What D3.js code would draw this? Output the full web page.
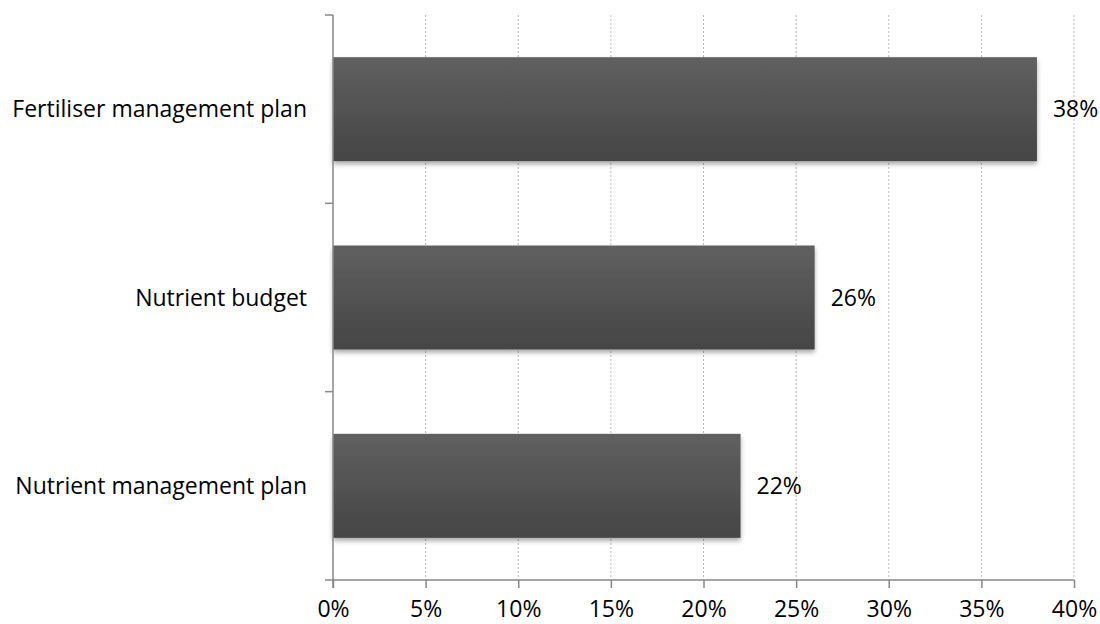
<!DOCTYPE html>
<html><head><meta charset="utf-8">
<script src="https://d3js.org/d3.v7.min.js"></script>
<style>body{margin:0;background:#fff}svg{display:block}</style>
</head><body>
<script>
const categories = ["Fertiliser management plan","Nutrient budget","Nutrient management plan"];
const values = [0.38, 0.26, 0.22];
const valueLabels = ["38%","26%","22%"];
const xTicks = [0,0.05,0.10,0.15,0.20,0.25,0.30,0.35,0.40];

(function(){
const W=1100,H=624;
const mLeft=333,mRight=1074,mTop=15,mBottom=580;
const font="'Open Sans', 'Liberation Sans', sans-serif";
const fs=23;
const svg=d3.select("body").append("svg").attr("width",W).attr("height",H);
const defs=svg.append("defs");
const g=defs.append("linearGradient").attr("id","bg").attr("x1",0).attr("y1",0).attr("x2",0).attr("y2",1);
g.append("stop").attr("offset","0%").attr("stop-color","#606060");
g.append("stop").attr("offset","100%").attr("stop-color","#454545");
const f=defs.append("filter").attr("id","sh").attr("x","-5%").attr("y","-10%").attr("width","110%").attr("height","130%");
f.append("feGaussianBlur").attr("in","SourceAlpha").attr("stdDeviation",2.5);
f.append("feOffset").attr("dx",0).attr("dy",3).attr("result","b");
f.append("feComponentTransfer").append("feFuncA").attr("type","linear").attr("slope",0.35);
const m=f.append("feMerge");m.append("feMergeNode");m.append("feMergeNode").attr("in","SourceGraphic");

const x=d3.scaleLinear().domain([0,0.40]).range([mLeft,mRight]);
const y=d3.scaleBand().domain(categories).range([mTop,mBottom]).paddingInner(0.448).paddingOuter(0.224);

svg.append("g").selectAll("line").data(xTicks.slice(1)).join("line")
 .attr("x1",d=>x(d)).attr("x2",d=>x(d)).attr("y1",mTop).attr("y2",mBottom)
 .attr("stroke","#b8b8b8").attr("stroke-width",1).attr("stroke-dasharray","2,2");

svg.append("g").selectAll("rect").data(values).join("rect")
 .attr("x",x(0)).attr("y",(d,i)=>y(categories[i])).attr("width",d=>x(d)-x(0))
 .attr("height",y.bandwidth()).attr("fill","url(#bg)").attr("filter","url(#sh)");

svg.append("g").selectAll("text").data(values).join("text")
 .attr("x",d=>x(d)+16).attr("y",(d,i)=>y(categories[i])+y.bandwidth()/2)
 .attr("dy","0.35em").attr("font-family",font).attr("font-size",fs).attr("fill","#000")
 .text((d,i)=>valueLabels[i]);

const xa=svg.append("g").attr("transform",`translate(0,${mBottom})`)
 .call(d3.axisBottom(x).tickValues(xTicks).tickFormat(d3.format(".0%")).tickSize(8).tickPadding(13));
xa.select(".domain").remove();
xa.append("line").attr("x1",mLeft-8).attr("x2",mRight).attr("stroke","#888").attr("stroke-width",1.5);
xa.selectAll(".tick line").attr("stroke","#888").attr("stroke-width",1.5);
xa.selectAll("text").attr("font-family",font).attr("font-size",fs).attr("fill","#000");

const ya=svg.append("g");
ya.append("line").attr("x1",mLeft).attr("x2",mLeft).attr("y1",mTop).attr("y2",mBottom+8).attr("stroke","#888").attr("stroke-width",1.5);
const bounds=[0,1,2].map(i=>y(categories[i])-y.step()*y.paddingInner()/2);
ya.selectAll("line.t").data(bounds).join("line").attr("class","t")
 .attr("x1",mLeft-8).attr("x2",mLeft).attr("y1",d=>d).attr("y2",d=>d).attr("stroke","#888").attr("stroke-width",1.5);
ya.selectAll("text").data(categories).join("text")
 .attr("x",307).attr("y",d=>y(d)+y.bandwidth()/2).attr("dy","0.35em").attr("text-anchor","end")
 .attr("font-family",font).attr("font-size",fs).attr("fill","#000").text(d=>d);
})();
</script>
</body></html>
